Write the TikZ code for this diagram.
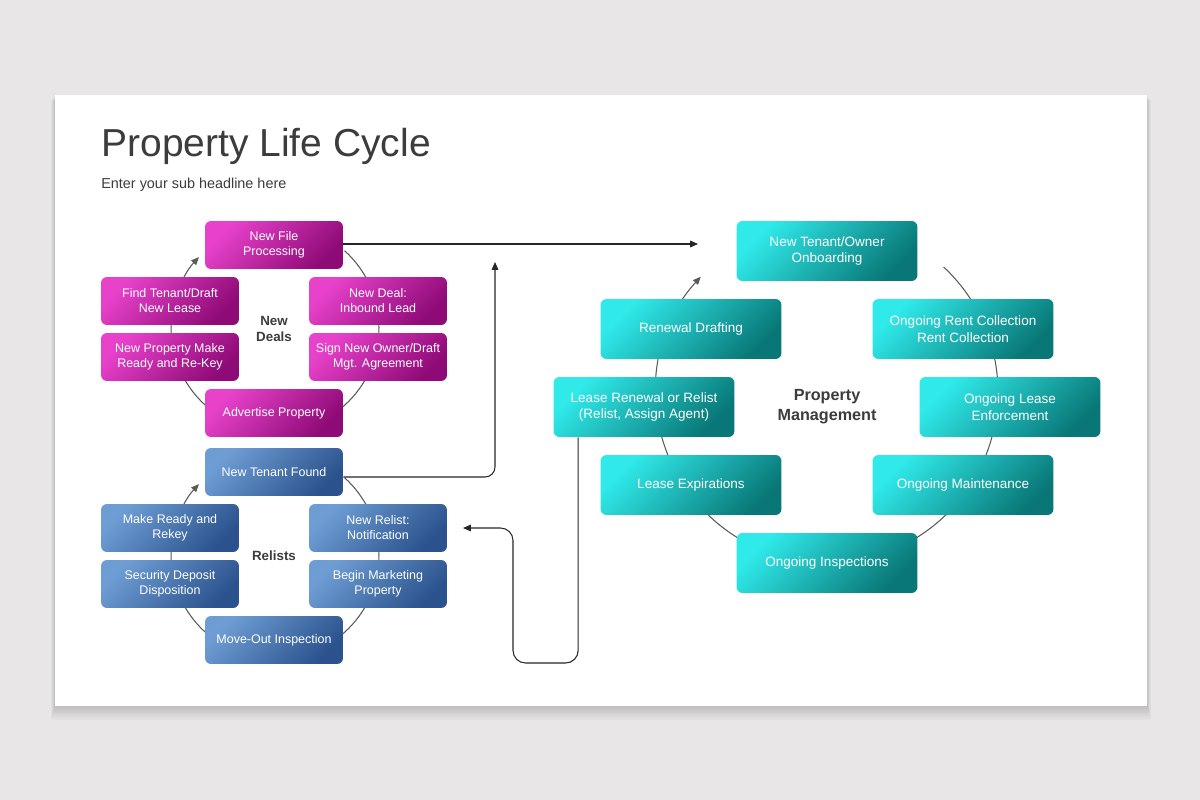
\documentclass[tikz,border=0pt]{standalone}
\usepackage{fontspec}
\setmainfont{Liberation Sans}
\usepackage{xcolor}
\usepackage{tikz}
\usetikzlibrary{arrows.meta,positioning,calc}

\definecolor{pageGray}{HTML}{E8E6E7}
\definecolor{titleGray}{HTML}{3C3C3C}
\definecolor{lineGray}{HTML}{5A5A5A}
\definecolor{dealLight}{HTML}{E842CB}
\definecolor{dealDark}{HTML}{8E0A76}
\definecolor{relistLight}{HTML}{6E9DD4}
\definecolor{relistDark}{HTML}{2B528C}
\definecolor{mgmtLight}{HTML}{30EAEA}
\definecolor{mgmtDark}{HTML}{097777}

\begin{document}
\begin{tikzpicture}[
  x=0.02cm,
  y=-0.02cm,
  boxBase/.style={rounded corners=3.4pt, text=white, align=center, inner sep=0pt},
  dealBox/.style={boxBase, top color=dealLight, bottom color=dealDark, shading angle=45,
    minimum width=2.76cm, minimum height=0.96cm, font=\fontsize{7.1}{8.5}\selectfont},
  relistBox/.style={boxBase, top color=relistLight, bottom color=relistDark, shading angle=45,
    minimum width=2.76cm, minimum height=0.96cm, font=\fontsize{7.1}{8.5}\selectfont},
  mgmtBox/.style={boxBase, top color=mgmtLight, bottom color=mgmtDark, shading angle=45,
    minimum width=3.62cm, minimum height=1.2cm, font=\fontsize{7.7}{9.6}\selectfont},
  cycleLabel/.style={font=\bfseries\fontsize{7.6}{9.6}\selectfont, text=titleGray, align=center},
  cycleLine/.style={draw=lineGray, line width=0.6pt},
  cycleArrow/.style={cycleLine, -{Triangle[length=4.5pt,width=3.8pt]}},
  flowArrow/.style={draw=black!85, line width=0.6pt, -{Triangle[length=4.5pt,width=3.8pt]}}
]
\useasboundingbox (0,0) rectangle (1200,800);
\fill[pageGray] (0,0) rectangle (1200,800);
% soft slide shadow
\foreach \s in {1,...,10}
  \fill[black, opacity=0.016] (55-\s*0.4,95+\s*0.6) rectangle (1147+\s*0.4,706+\s*1.4);
\fill[white] (55,95) rectangle (1147,706);

% heading
\node[anchor=base west, font=\fontsize{22.2}{26}\selectfont, text=titleGray, inner sep=0pt] (title) at (101,157) {Property Life Cycle};
\node[anchor=base west, font=\fontsize{8.2}{10}\selectfont, text=titleGray, inner sep=0pt] (subtitle) at (101,189) {Enter your sub headline here};

% cycle centres
\coordinate (dealC) at (275,328);
\coordinate (relistC) at (275,555);
\coordinate (mgmtC) at (827,392);

% cycle rings
\draw[cycleArrow] ($(dealC)+(48:2.08cm)$) arc[start angle=48, end angle=-223, radius=2.08cm];
\draw[cycleArrow] ($(relistC)+(48:2.08cm)$) arc[start angle=48, end angle=-223, radius=2.08cm];
\draw[cycleArrow] ($(mgmtC)+(47:3.42cm)$) arc[start angle=47, end angle=-222.4, radius=3.42cm];

% new deals
\node[dealBox] (newFile) at (274,245) {New File\\Processing};
\node[dealBox] (findTenant) at (170,301) {Find Tenant/Draft\\New Lease};
\node[dealBox] (newDeal) at (378,301) {New Deal:\\Inbound Lead};
\node[dealBox] (makeReady) at (170,357) {New Property Make\\Ready and Re-Key};
\node[dealBox] (signOwner) at (378,357) {Sign New Owner/Draft\\Mgt. Agreement};
\node[dealBox] (advertise) at (274,413) {Advertise Property};
\node[cycleLabel] (dealLabel) at (274,329) {New\\Deals};

% relists
\node[relistBox] (found) at (274,472) {New Tenant Found};
\node[relistBox] (rekey) at (170,528) {Make Ready and\\Rekey};
\node[relistBox] (relist) at (378,528) {New Relist:\\Notification};
\node[relistBox] (deposit) at (170,584) {Security Deposit\\Disposition};
\node[relistBox] (marketing) at (378,584) {Begin Marketing\\Property};
\node[relistBox] (moveOut) at (274,640) {Move-Out Inspection};
\node[cycleLabel] (relistLabel) at (274,556) {Relists};

% property management
\node[mgmtBox] (onboard) at (827,251) {New Tenant/Owner\\Onboarding};
\node[mgmtBox] (drafting) at (691,329) {Renewal Drafting};
\node[mgmtBox] (rent) at (963,329) {Ongoing Rent Collection\\Rent Collection};
\node[mgmtBox] (renew) at (644,407) {Lease Renewal or Relist\\(Relist, Assign Agent)};
\node[mgmtBox] (enforce) at (1010,407) {Ongoing Lease\\Enforcement};
\node[mgmtBox] (expire) at (691,485) {Lease Expirations};
\node[mgmtBox] (maintain) at (963,485) {Ongoing Maintenance};
\node[mgmtBox] (inspect) at (827,563) {Ongoing Inspections};
\node[cycleLabel, font=\bfseries\fontsize{9.2}{11.3}\selectfont] (mgmtLabel) at (827,407) {Property\\Management};

% hand-offs
\coordinate (onboardTip) at (698,244);
\coordinate (dealTip) at (495,262);
\coordinate (loopTurn) at (513,663);
\coordinate (relistTip) at (463,528);
\draw[flowArrow] (newFile.east |- onboardTip) -- (onboardTip);
\draw[flowArrow, rounded corners=0.2cm] ([yshift=-0.1cm]found.east) -| (dealTip);
\draw[flowArrow, rounded corners=0.25cm] ([xshift=0.5cm]renew.south west) |- (loopTurn) |- (relistTip);
\end{tikzpicture}
\end{document}
